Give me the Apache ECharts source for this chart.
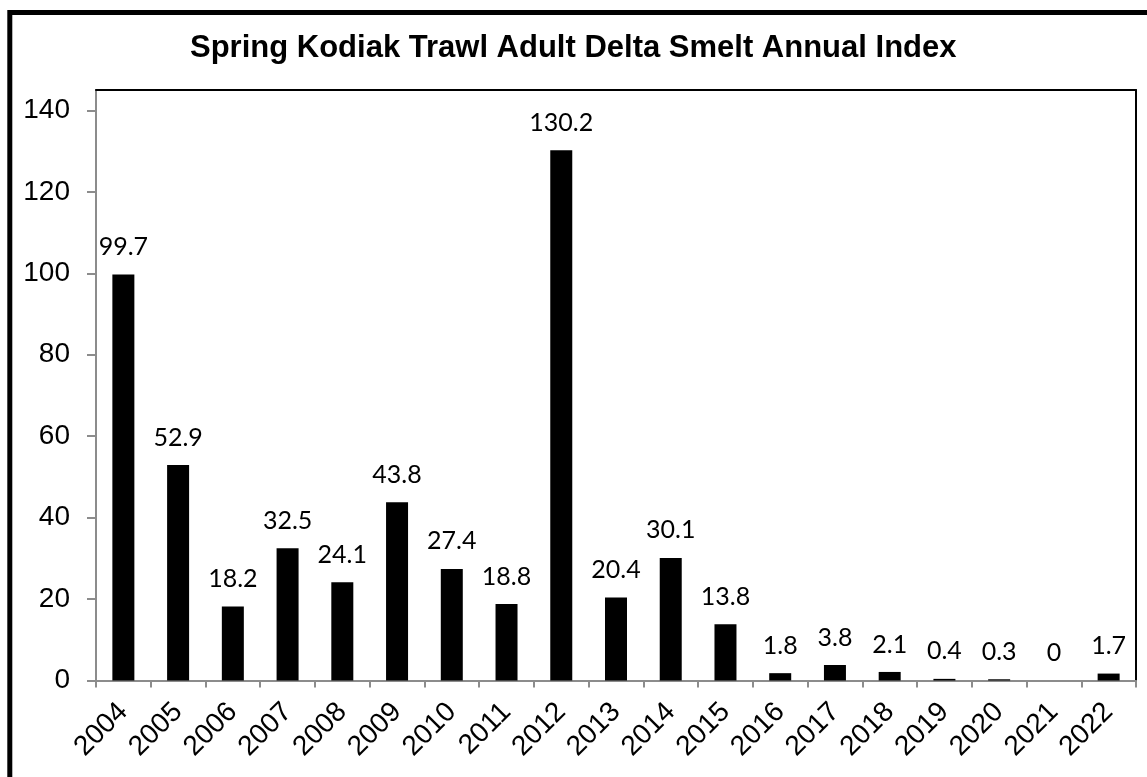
<!DOCTYPE html>
<html><head><meta charset="utf-8">
<script src="https://cdn.jsdelivr.net/npm/echarts@6/dist/echarts.min.js"></script>
<style>html,body{margin:0;padding:0;background:#fff;}#c{width:1147px;height:777px;}</style>
</head><body><div id="c"></div>
<script>
const titleText = 'Spring Kodiak Trawl Adult Delta Smelt Annual Index';
const years = ['2004','2005','2006','2007','2008','2009','2010','2011','2012','2013','2014','2015','2016','2017','2018','2019','2020','2021','2022'];
const indexValues = [99.7,52.9,18.2,32.5,24.1,43.8,27.4,18.8,130.2,20.4,30.1,13.8,1.8,3.8,2.1,0.4,0.3,0,1.7];
const yTicks = [0,20,40,60,80,100,120,140];

const chart = echarts.init(document.getElementById('c'), null, {renderer:'canvas'});
chart.setOption({
  animation:false,
  backgroundColor:'#fff',
  title:{text:titleText,left:185,top:28,textStyle:{fontFamily:'Liberation Sans',fontWeight:'bold',fontSize:31,color:'#000'}},
  graphic:[{type:'rect',shape:{x:9.8,y:12.5,width:1300,height:900},style:{fill:'none',stroke:'#000',lineWidth:5},z:100}],
  grid:{left:96,right:11,top:90,bottom:96.5},
  xAxis:[{
    type:'category',data:years,position:'bottom',
    axisLine:{show:true,onZero:false,lineStyle:{color:'#8c8c8c',width:2}},
    axisTick:{show:true,length:7,lineStyle:{color:'#8c8c8c',width:2}},
    axisLabel:{rotate:45,margin:27,fontFamily:'Liberation Sans',fontSize:28,color:'#000',interval:0}
  },{
    type:'category',data:years,position:'top',
    axisLine:{show:true,onZero:false,lineStyle:{color:'#000',width:2}},
    axisTick:{show:false},axisLabel:{show:false}
  }],
  yAxis:[{
    type:'value',min:0,max:145,interval:20,
    splitLine:{show:false},
    axisLine:{show:true,lineStyle:{color:'#8c8c8c',width:2}},
    axisTick:{show:true,length:9,customValues:yTicks,lineStyle:{color:'#8c8c8c',width:2}},
    axisLabel:{customValues:yTicks,margin:26,fontFamily:'Liberation Sans',fontSize:28,color:'#000'}
  },{
    type:'value',min:0,max:145,position:'right',
    splitLine:{show:false},
    axisLine:{show:true,onZero:false,lineStyle:{color:'#000',width:2}},
    axisTick:{show:false},axisLabel:{show:false}
  }],
  series:[{
    type:'bar',data:indexValues,barWidth:22,
    itemStyle:{color:'#000'},
    label:{show:true,position:'top',distance:15,fontFamily:'Lato',fontSize:25,color:'#000'}
  }]
});
</script></body></html>
